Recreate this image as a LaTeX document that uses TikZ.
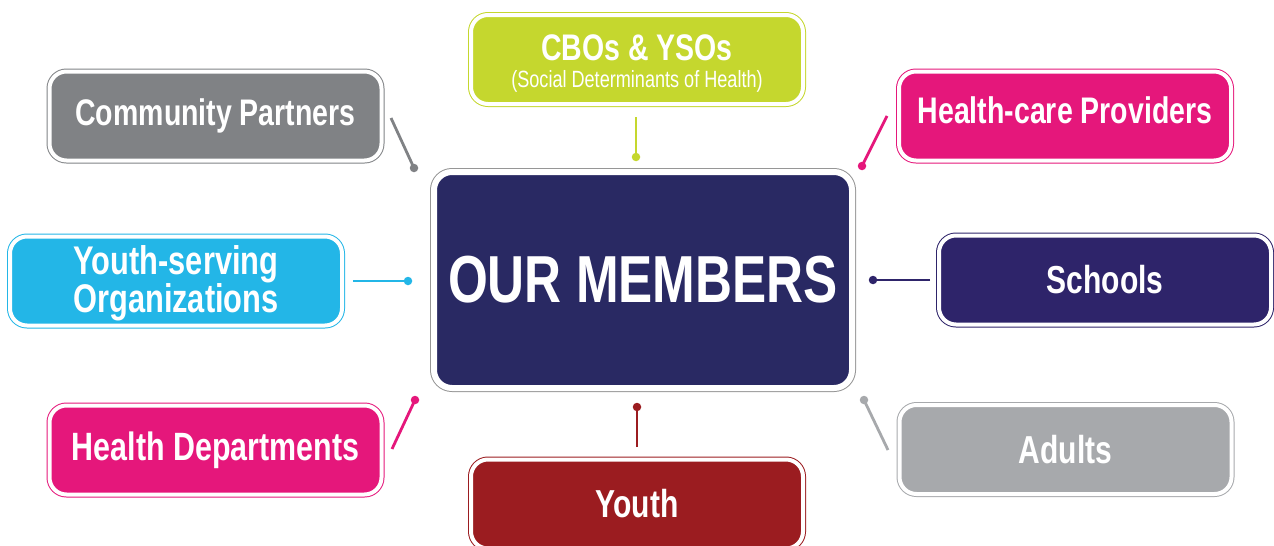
\documentclass[tikz,border=0pt]{standalone}
\usepackage{fontspec}
\setmainfont{Liberation Sans}[FakeStretch=0.77]

\definecolor{lime}{RGB}{197,215,46}
\definecolor{slate}{RGB}{128,130,133}
\definecolor{magenta}{RGB}{229,23,123}
\definecolor{sky}{RGB}{35,182,231}
\definecolor{navy}{RGB}{41,41,99}
\definecolor{indigo}{RGB}{46,36,106}
\definecolor{silver}{RGB}{167,169,172}
\definecolor{crimson}{RGB}{155,28,32}
\definecolor{frame}{RGB}{150,150,150}

\begin{document}
\begin{tikzpicture}[x=1pt,y=-1pt,
	member/.style={rectangle, rounded corners=17pt, fill=#1, draw=white, line width=4pt,
		preaction={draw=#1, line width=6pt}, text=white, inner sep=0pt, align=center,
		font=\bfseries\fontsize{38}{38}\selectfont, minimum width=332pt, minimum height=89pt},
	hub/.style={rectangle, rounded corners=18pt, fill=navy, draw=white, line width=6pt,
		preaction={draw=frame, line width=8pt}, text=white, inner sep=0pt,
		font=\bfseries\fontsize{66.5}{66}\selectfont, minimum width=418pt, minimum height=216pt},
	link/.style={draw=#1, line width=2.8pt},
	pin/.style={circle, fill=#1, inner sep=0pt, minimum size=8.5pt}]

\useasboundingbox (0,0) rectangle (1274,546);
\clip (0,0) rectangle (1274,546);

\node [hub] (members) at (643,280) {OUR MEMBERS};

%%%%%%%%%%%%%%%%%%%%%%%%%%%%%%%%%%%%%%%%%%

\node [member=lime, font=\bfseries\fontsize{37}{27}\selectfont] (cbo) at (637,59.5)
	{\rule{0pt}{34pt}CBOs \& YSOs\\{\mdseries\fontsize{23.5}{24}\selectfont (Social Determinants of Health)}};
\coordinate (cbo-tail) at (636,117);
\node [pin=lime] (cbo-pin) at (636,157) {};
\draw [link=lime] (cbo-tail) to (cbo-pin.center);

%%%%%%%%%%%%%%%%%%%%%%%%%%%%%%%%%%%%%%%%%%

\node [member=slate, font=\bfseries\fontsize{37}{38}\selectfont] (partners) at (215.5,116) {Community Partners};
\coordinate (partners-tail) at (391,118);
\node [pin=slate] (partners-pin) at (414,168) {};
\draw [link=slate] (partners-tail) to (partners-pin.center);

%%%%%%%%%%%%%%%%%%%%%%%%%%%%%%%%%%%%%%%%%%

\node [member=magenta, font=\bfseries\fontsize{37}{38}\selectfont, text depth=11pt] (providers) at (1065,116) {Health-care Providers};
\coordinate (providers-tail) at (887,116);
\node [pin=magenta] (providers-pin) at (862,166) {};
\draw [link=magenta] (providers-tail) to (providers-pin.center);

%%%%%%%%%%%%%%%%%%%%%%%%%%%%%%%%%%%%%%%%%%

\node [member=sky, font=\bfseries\fontsize{40}{38}\selectfont] (serving) at (176,281) {\rule{0pt}{34pt}Youth-serving\\Organizations};
\coordinate (serving-tail) at (353,281);
\node [pin=sky] (serving-pin) at (408,281) {};
\draw [link=sky] (serving-tail) to (serving-pin.center);

%%%%%%%%%%%%%%%%%%%%%%%%%%%%%%%%%%%%%%%%%%

\node [member=indigo, font=\bfseries\fontsize{39}{38}\selectfont] (schools) at (1105,280) {Schools};
\coordinate (schools-tail) at (930,280);
\node [pin=indigo] (schools-pin) at (873,280) {};
\draw [link=indigo] (schools-tail) to (schools-pin.center);

%%%%%%%%%%%%%%%%%%%%%%%%%%%%%%%%%%%%%%%%%%

\node [member=silver, font=\bfseries\fontsize{39}{38}\selectfont] (adults) at (1065.5,449.5) {Adults};
\coordinate (adults-tail) at (888,450);
\node [pin=silver] (adults-pin) at (864,400) {};
\draw [link=silver] (adults-tail) to (adults-pin.center);

%%%%%%%%%%%%%%%%%%%%%%%%%%%%%%%%%%%%%%%%%%

\node [member=magenta, font=\bfseries\fontsize{39.5}{38}\selectfont] (departments) at (215.5,450) {Health Departments};
\coordinate (departments-tail) at (392,449);
\node [pin=magenta] (departments-pin) at (415,400) {};
\draw [link=magenta] (departments-tail) to (departments-pin.center);

%%%%%%%%%%%%%%%%%%%%%%%%%%%%%%%%%%%%%%%%%%

\node [member=crimson, font=\bfseries\fontsize{39}{38}\selectfont] (youth) at (637,504) {Youth};
\coordinate (youth-tail) at (637,447);
\node [pin=crimson] (youth-pin) at (637,407) {};
\draw [link=crimson] (youth-tail) to (youth-pin.center);

\end{tikzpicture}
\end{document}
